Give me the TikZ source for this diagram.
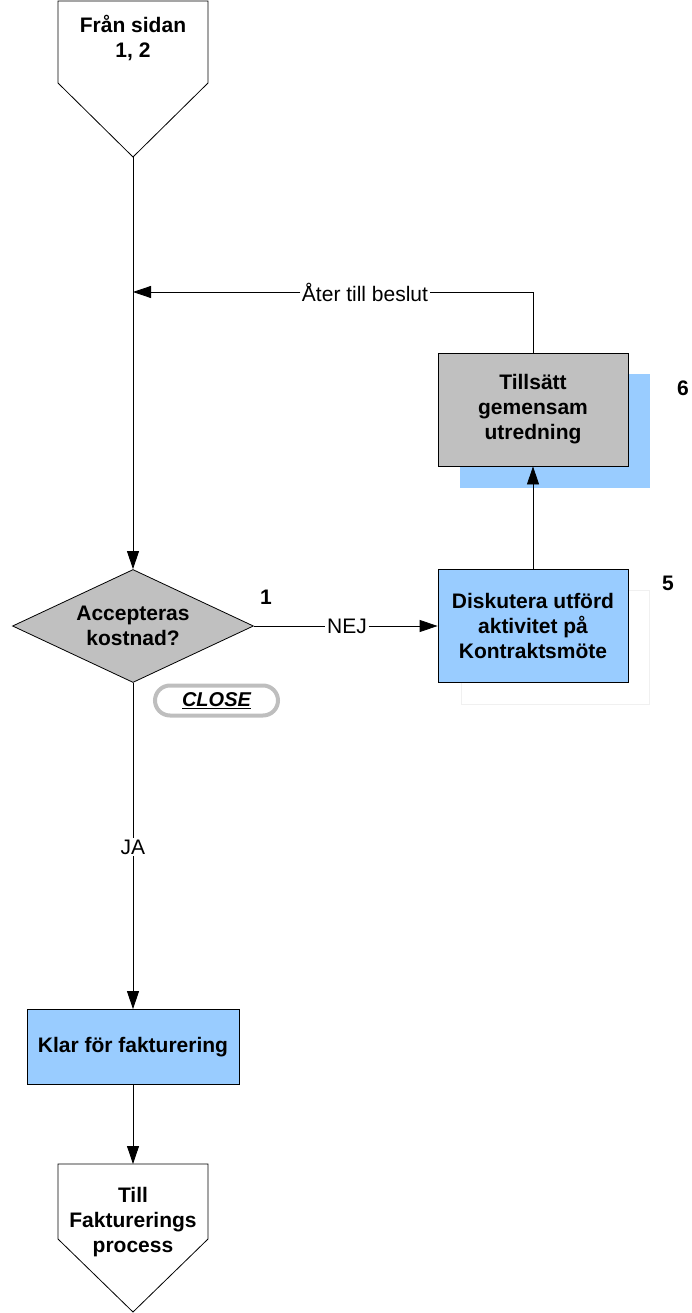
\documentclass[tikz,border=0pt]{standalone}
\usepackage{fontspec}
\setmainfont{Liberation Sans}
\usetikzlibrary{shapes.geometric,arrows.meta}

\definecolor{procblue}{HTML}{99CCFF}
\definecolor{procgray}{HTML}{C0C0C0}
\definecolor{closegray}{HTML}{BEBEBE}

\tikzset{
  flow/.style={line width=0.8pt,-{Triangle[length=18pt,width=12pt]}},
  plain/.style={line width=0.8pt},
  txt/.style={font=\fontsize{21}{25}\selectfont\bfseries, align=center, inner sep=0pt},
  lbl/.style={font=\fontsize{21}{25}\selectfont, fill=white, inner sep=1.5pt},
  procbox/.style={draw, line width=0.8pt, minimum width=190pt, minimum height=113pt, txt},
  num/.style={font=\fontsize{21}{25}\selectfont\bfseries, inner sep=0pt},
}

\begin{document}
\begin{tikzpicture}[x=1pt,y=1pt,yscale=-1]

\useasboundingbox (0,0) rectangle (691,1313);


\draw [plain, fill=white] (58,1) -- (208,1) -- (208,83) -- (133,157) -- (58,83) -- cycle ;
\node [txt] (from) at (133,38) {Från sidan\\1, 2};
\coordinate (fromtip) at (133,157);

\coordinate (join) at (133,292);


\fill [procblue] (460,374) rectangle (650,488) ;
\node [procbox, fill=procgray] (invest) at (533,409.5) {Tillsätt\\gemensam\\utredning};

\draw [black!6, line width=0.8pt] (461,590) rectangle (649,704) ;
\node [procbox, fill=procblue] (discuss) at (533,626) {Diskutera utförd\\aktivitet på\\Kontraktsmöte};


\node [diamond, aspect=2.13, draw, line width=0.8pt, fill=procgray, minimum width=241pt, minimum height=113pt, txt] (dec) at (133,626) {Accepteras\\kostnad?};

\node [draw, fill=procblue, line width=0.8pt, minimum width=212pt, minimum height=75pt, txt] (ready) at (133,1047) {Klar för fakturering};


\draw [plain, fill=white] (58,1164) -- (208,1164) -- (208,1239) -- (133,1312) -- (58,1239) -- cycle ;
\node [txt] (to) at (133,1222) {Till\\Fakturerings\\process};
\coordinate (totop) at (133,1164);


\node [draw=closegray, line width=4pt, rounded corners=15pt, minimum width=123pt, minimum height=30pt, font=\fontsize{20}{22}\selectfont\bfseries\itshape] (close) at (216.5,700.5) {\underline{CLOSE}};


\node [lbl] (back) at (365,292) {Åter till beslut};
\node [lbl] (nej) at (347,626) {NEJ};
\node [lbl] (ja) at (133,847) {JA};

\node [num] (n1) at (266,597) {1};
\node [num] (n5) at (668,583) {5};
\node [num] (n6) at (683,388) {6};


\draw [flow] (fromtip) -- (dec.north) ;

\draw [plain] (invest.north) |- (back.east) ;
\draw [flow] (back.west) -- (join) ;

\draw [plain] (dec.east) -- (nej.west) ;
\draw [flow] (nej.east) -- (discuss.west) ;

\draw [flow] (discuss.north) -- (invest.south) ;

\draw [plain] (dec.south) -- (ja.north) ;
\draw [flow] (ja.south) -- (ready.north) ;

\draw [flow] (ready.south) -- (totop) ;


\end{tikzpicture}
\end{document}
